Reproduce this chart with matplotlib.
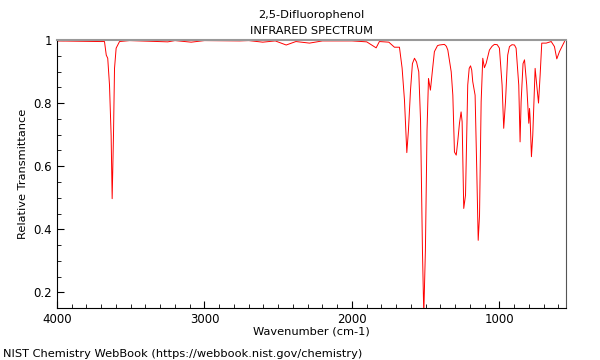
import matplotlib
matplotlib.use("Agg")
import matplotlib.pyplot as plt
from matplotlib.ticker import MultipleLocator, FuncFormatter

# wavenumber (cm-1) and transmittance
wavenumber = [4000, 3712, 3678, 3666, 3656, 3644, 3633, 3626, 3617, 3610, 3599, 3576,
              3508, 3249, 3200, 3090, 3000, 2763, 2700, 2605, 2520, 2446, 2380, 2288,
              2200, 2130, 2000, 1900, 1836, 1814, 1750, 1712, 1678, 1660, 1644, 1628,
              1617, 1603, 1590, 1576, 1562, 1547, 1535, 1522, 1513, 1502, 1491, 1481,
              1468, 1454, 1441, 1420, 1407, 1373, 1360, 1350, 1327, 1316, 1305, 1293,
              1283, 1271, 1260, 1253, 1242, 1230, 1215, 1205, 1196, 1188, 1181, 1165,
              1154, 1144, 1135, 1124, 1113, 1102, 1090, 1068, 1050, 1034, 1015, 1000,
              982, 971, 959, 944, 932, 915, 898, 887, 869, 860, 853, 840, 830, 815, 801,
              796, 792, 783, 774, 758, 747, 735, 724, 713, 683, 649, 627, 611, 593, 559]
transmittance = [0.997, 0.995, 0.995, 0.952, 0.942, 0.857, 0.698, 0.497, 0.698, 0.910,
                 0.974, 0.995, 0.998, 0.994, 0.998, 0.993, 0.998, 0.997, 0.998, 0.993,
                 0.997, 0.984, 0.995, 0.990, 0.997, 0.997, 0.997, 0.994, 0.975, 0.995,
                 0.993, 0.977, 0.977, 0.911, 0.810, 0.643, 0.714, 0.841, 0.925, 0.942,
                 0.930, 0.899, 0.746, 0.333, 0.130, 0.333, 0.714, 0.878, 0.841, 0.905,
                 0.963, 0.982, 0.984, 0.986, 0.980, 0.968, 0.899, 0.825, 0.645, 0.635,
                 0.677, 0.736, 0.772, 0.741, 0.466, 0.508, 0.857, 0.910, 0.918, 0.905,
                 0.868, 0.825, 0.593, 0.365, 0.444, 0.804, 0.942, 0.912, 0.926, 0.968,
                 0.980, 0.986, 0.985, 0.974, 0.857, 0.720, 0.804, 0.952, 0.979, 0.985,
                 0.984, 0.974, 0.857, 0.677, 0.804, 0.925, 0.937, 0.857, 0.736, 0.783,
                 0.752, 0.630, 0.698, 0.910, 0.857, 0.800, 0.889, 0.990, 0.990, 0.995,
                 0.979, 0.940, 0.963, 0.995]

fig = plt.figure(figsize=(6, 3.6), dpi=100)
ax = fig.add_axes([0.095, 0.144, 0.848, 0.745])
ax.plot(wavenumber, transmittance, color="red", lw=0.7)

ax.set_xlim(4000, 550)
ax.set_ylim(0.15, 1.0)
ax.xaxis.set_major_locator(MultipleLocator(1000))
ax.xaxis.set_minor_locator(MultipleLocator(100))
ax.yaxis.set_major_locator(MultipleLocator(0.2))
ax.yaxis.set_minor_locator(MultipleLocator(0.05))
ax.yaxis.set_major_formatter(FuncFormatter(lambda v, p: "%g" % round(v, 2)))
ax.tick_params(which="both", direction="in", labelsize=8.5, top=False, right=False)
ax.tick_params(which="major", length=5)
ax.tick_params(which="minor", length=3)
ax.spines["top"].set_color("#999999")
ax.spines["top"].set_linewidth(1.5)
ax.spines["right"].set_color("#555555")

ax.set_xlabel("Wavenumber (cm-1)", fontsize=8.2, labelpad=0)
ax.set_ylabel("Relative Transmittance", fontsize=8.2)
ax.set_title("2,5-Difluorophenol\nINFRARED SPECTRUM", fontsize=8.2, pad=4,
             linespacing=1.8)
fig.text(0.005, 0.008, "NIST Chemistry WebBook (https://webbook.nist.gov/chemistry)",
         fontsize=8.2)

fig.savefig("out.png")
